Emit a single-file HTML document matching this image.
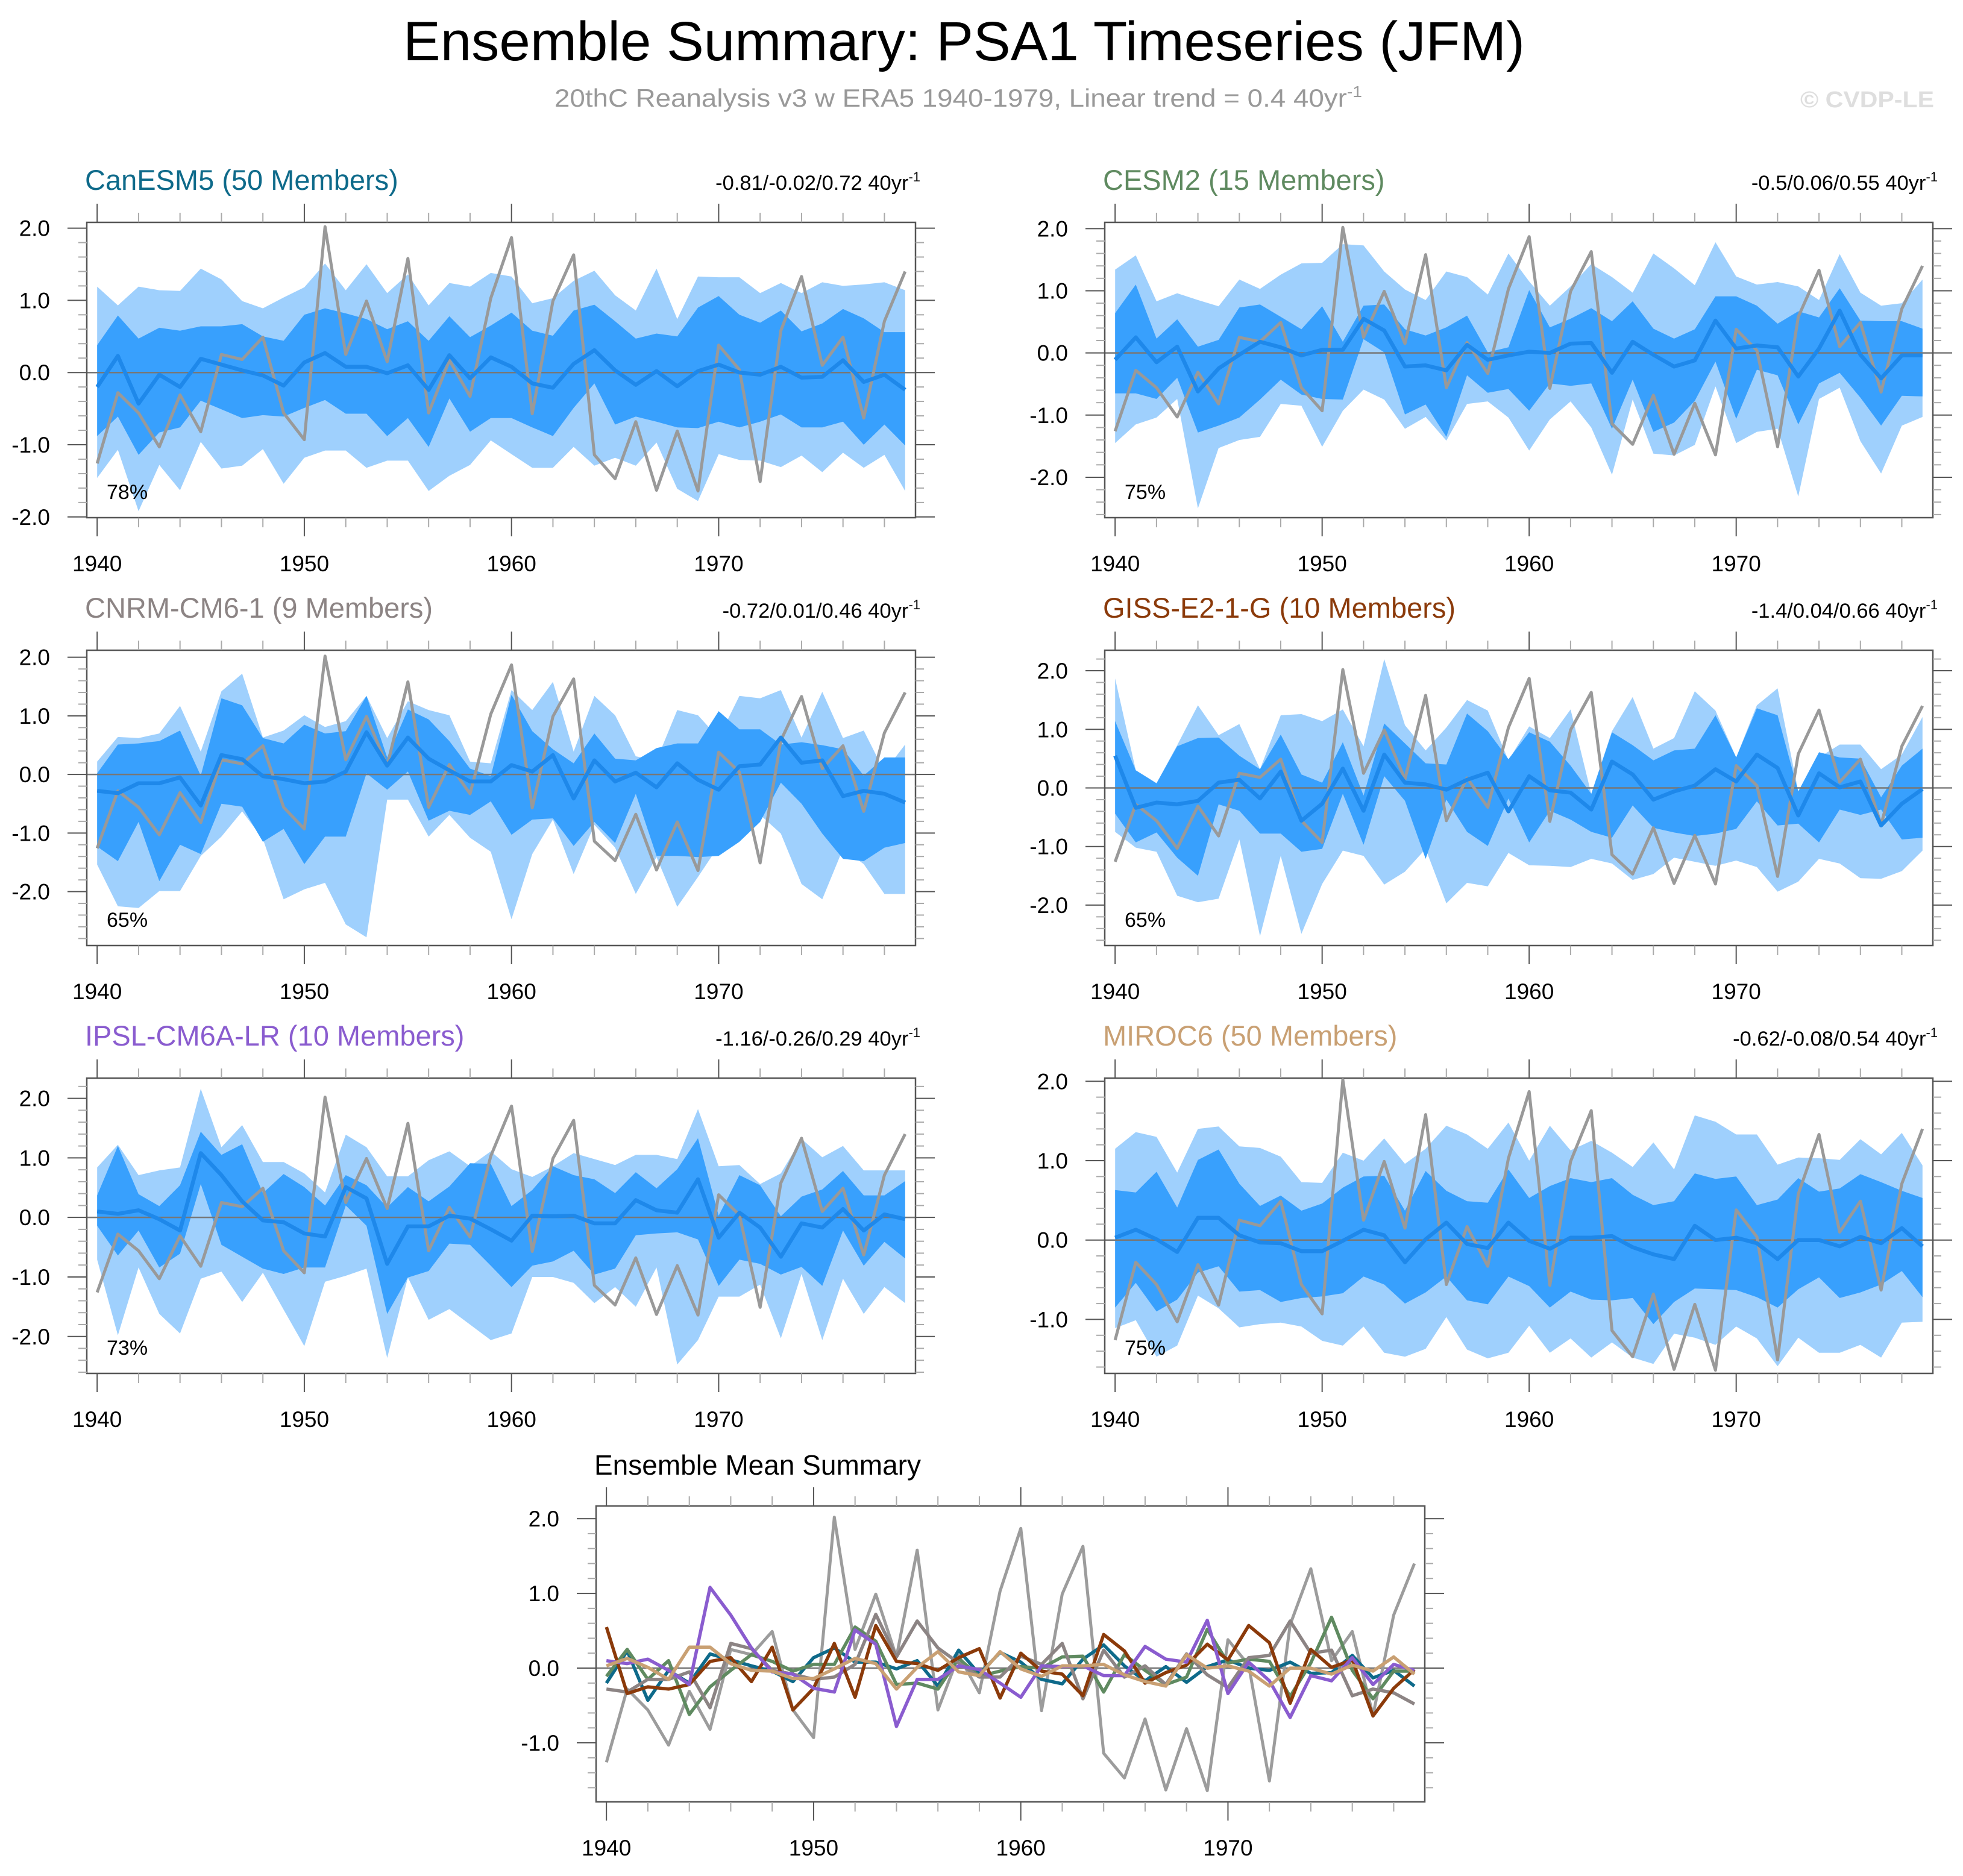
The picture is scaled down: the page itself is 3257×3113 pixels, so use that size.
<!DOCTYPE html>
<html><head><meta charset="utf-8">
<style>
html,body{margin:0;padding:0;background:#fff;}
svg{display:block;font-family:"Liberation Sans",sans-serif;}
</style></head>
<body>
<svg id="chart" xmlns="http://www.w3.org/2000/svg" width="3257" height="3113" viewBox="0 0 3257 3113">
<rect x="0" y="0" width="3257" height="3113" fill="#fff"/>
<text x="669" y="100" font-size="92" textLength="1861" lengthAdjust="spacingAndGlyphs" fill="#000">Ensemble Summary: PSA1 Timeseries (JFM)</text>
<text x="920" y="177" font-size="42" textLength="1340" lengthAdjust="spacingAndGlyphs" fill="#999">20thC Reanalysis v3 w ERA5 1940-1979, Linear trend = 0.4 40yr<tspan dy="-16" font-size="26">-1</tspan></text>
<text x="2987" y="178" font-size="38" font-weight="bold" textLength="222" lengthAdjust="spacingAndGlyphs" fill="#dedede">© CVDP-LE</text>
<g id="plots"></g>
</svg>
<script>
const years = [];
for (let y = 1940; y <= 1979; y++) years.push(y);
const obs = [-1.26,-0.28,-0.56,-1.03,-0.31,-0.82,0.25,0.18,0.49,-0.56,-0.93,2.02,0.25,0.99,0.15,1.58,-0.56,0.17,-0.33,1.03,1.87,-0.57,0.99,1.63,-1.14,-1.47,-0.68,-1.63,-0.81,-1.64,0.38,0.04,-1.51,0.58,1.33,0.1,0.49,-0.63,0.71,1.4];

const canMean = [-0.2,0.23,-0.43,-0.03,-0.2,0.19,0.11,0.03,-0.04,-0.18,0.14,0.27,0.08,0.08,-0.01,0.1,-0.24,0.24,-0.08,0.21,0.08,-0.15,-0.21,0.12,0.31,0.03,-0.17,0.02,-0.19,0.02,0.11,0,-0.03,0.08,-0.07,-0.06,0.17,-0.13,-0.03,-0.24];
const canHi = [1.19,0.93,1.19,1.14,1.13,1.44,1.29,0.99,0.89,1.04,1.18,1.51,1.14,1.5,1.1,1.36,0.93,1.24,1.19,1.38,1.33,0.96,1.03,1.27,1.41,1.07,0.86,1.44,0.74,1.33,1.32,1.32,1.1,1.24,1.1,1.25,1.2,1.22,1.25,1.14];
const canQ75 = [0.38,0.79,0.47,0.62,0.58,0.64,0.64,0.67,0.5,0.44,0.8,0.89,0.82,0.74,0.6,0.71,0.44,0.78,0.49,0.65,0.83,0.58,0.51,0.86,0.94,0.71,0.47,0.54,0.5,0.9,1.06,0.8,0.69,0.86,0.57,0.68,0.88,0.75,0.56,0.56];
const canQ25 = [-0.88,-0.61,-1.14,-0.83,-0.76,-0.39,-0.51,-0.63,-0.59,-0.61,-0.49,-0.38,-0.57,-0.57,-0.88,-0.63,-1.03,-0.36,-0.82,-0.63,-0.63,-0.76,-0.88,-0.49,-0.15,-0.72,-0.61,-0.68,-0.76,-0.77,-0.68,-0.76,-0.68,-0.58,-0.76,-0.76,-0.68,-1.0,-0.72,-1.01];
const canLo = [-1.46,-1.07,-1.92,-1.28,-1.63,-0.96,-1.33,-1.29,-1.06,-1.54,-1.18,-1.08,-1.08,-1.32,-1.22,-1.22,-1.64,-1.43,-1.28,-0.94,-1.13,-1.32,-1.32,-1.03,-1.29,-1.18,-1.29,-0.97,-1.61,-1.78,-1.13,-1.21,-1.22,-1.31,-1.15,-1.38,-1.11,-1.32,-1.14,-1.64];

const cesmMean = [-0.11,0.25,-0.15,0.1,-0.62,-0.25,-0.03,0.18,0.09,-0.04,0.05,0.05,0.55,0.36,-0.22,-0.2,-0.28,0.13,-0.11,-0.04,0.02,0,0.15,0.16,-0.32,0.18,-0.03,-0.22,-0.12,0.52,0.07,0.12,0.09,-0.38,0.07,0.68,-0.03,-0.41,-0.04,-0.04];
const cesmHi = [1.34,1.57,0.83,0.96,0.85,0.75,1.18,1.03,1.26,1.44,1.45,1.75,1.73,1.31,1.02,0.85,1.31,1.22,0.94,1.6,1.15,0.76,1.07,1.43,1.22,0.97,1.6,1.36,1.09,1.78,1.23,1.1,1.14,1.07,0.85,1.59,0.97,0.76,0.8,1.18];
const cesmQ75 = [0.64,1.1,0.23,0.54,0.1,0.21,0.73,0.78,0.58,0.38,0.75,0.18,0.76,0.78,0.38,0.28,0.41,0.6,0.01,0.09,1.01,0.41,0.55,0.72,0.51,0.83,0.39,0.23,0.38,0.91,0.91,0.76,0.47,0.67,0.57,1.04,0.52,0.51,0.51,0.39];
const cesmQ25 = [-0.65,-0.65,-0.74,-0.4,-1.28,-1.17,-1.04,-0.75,-0.43,-0.67,-0.74,-0.75,0.22,0.01,-0.99,-0.83,-1.35,-0.36,-0.64,-0.58,-0.93,-0.49,-0.53,-0.49,-1.22,-0.43,-1.27,-1.12,-0.77,-0.14,-1.06,-0.27,-0.36,-1.15,-0.49,-0.32,-0.72,-1.17,-0.69,-0.7];
const cesmLo = [-1.45,-1.15,-1.04,-0.74,-2.5,-1.53,-1.4,-1.35,-0.82,-0.85,-1.51,-0.93,-0.59,-0.75,-1.22,-1.03,-1.41,-0.82,-0.78,-1.04,-1.57,-1.07,-0.78,-1.2,-1.96,-0.75,-1.62,-1.65,-1.48,-0.54,-1.45,-1.27,-1.22,-2.31,-0.74,-0.56,-1.42,-1.94,-1.17,-1.03];

const cnrmMean = [-0.28,-0.32,-0.15,-0.15,-0.05,-0.53,0.33,0.26,-0.03,-0.08,-0.15,-0.12,0.05,0.72,0.15,0.63,0.27,0.07,-0.12,-0.12,0.16,0.05,0.33,-0.41,0.24,-0.12,0.03,-0.22,0.19,-0.09,-0.26,0.14,0.17,0.63,0.2,0.24,-0.37,-0.28,-0.33,-0.48];
const cnrmHi = [0.22,0.64,0.62,0.7,1.17,0.39,1.42,1.72,0.63,0.75,1.01,0.81,0.91,1.34,0.62,1.25,1.1,1.01,0.22,0.19,1.44,1.1,1.58,0.39,1.34,1.01,0.31,0.24,1.1,1.01,0.62,1.34,1.3,1.44,0.63,1.41,0.62,0.75,0.05,0.51];
const cnrmQ75 = [0.02,0.51,0.53,0.57,0.75,-0.02,1.3,1.18,0.62,0.53,0.85,0.7,0.74,1.34,0.29,1.11,0.94,0.57,0.1,-0.03,1.36,0.74,0.43,0.19,0.7,0.27,0.24,0.45,0.53,0.53,1.08,0.77,0.77,0.51,0.55,0.5,0.43,-0.02,0.29,0.29];
const cnrmQ25 = [-1.23,-1.48,-0.81,-1.82,-1.2,-1.36,-0.5,-0.55,-1.15,-0.93,-1.53,-1.06,-1.06,0.02,-0.26,0.05,-0.79,-0.62,-0.69,-0.46,-1.03,-0.77,-0.75,-1.22,-0.81,-1.17,-0.33,-1.39,-1.39,-1.41,-1.39,-1.15,-0.81,-0.14,-0.5,-1.01,-1.44,-1.48,-1.25,-1.17];
const cnrmLo = [-1.54,-2.25,-2.28,-1.99,-1.99,-1.39,-1.06,-0.63,-1.1,-2.13,-1.96,-1.85,-2.56,-2.78,-0.43,-0.43,-1.06,-0.69,-1.08,-1.32,-2.47,-1.36,-0.77,-1.7,-0.86,-1.25,-2.04,-1.41,-2.26,-1.75,-1.22,-0.7,-0.69,-1.01,-1.87,-2.13,-1.27,-1.53,-2.04,-2.04];

const gissMean = [0.55,-0.34,-0.25,-0.28,-0.22,0.09,0.14,-0.18,0.28,-0.56,-0.27,0.33,-0.39,0.57,0.09,0.06,-0.03,0.14,0.26,-0.4,0.2,-0.04,-0.08,-0.37,0.45,0.23,-0.2,-0.06,0.04,0.32,0.11,0.57,0.34,-0.47,0.25,0.01,0.11,-0.64,-0.27,-0.02];
const gissHi = [1.87,0.3,0.08,0.73,1.41,0.9,1.09,0.32,1.24,1.26,1.14,1.34,0.71,2.2,1.07,0.64,1.03,1.5,1.32,0.47,1.05,0.85,1.34,-0.1,0.97,1.55,0.67,0.85,1.65,1.32,0.52,1.41,1.7,-0.06,0.52,0.74,0.74,0.32,0.57,1.21];
const gissQ75 = [1.14,0.3,0.08,0.71,0.85,0.86,0.55,0.32,0.91,0.23,0.09,0.78,-0.13,1.1,0.76,0.42,0.4,1.27,0.97,0.49,0.95,0.79,0.38,-0.1,0.95,0.73,0.47,0.64,0.67,1.24,0.52,1.36,1.24,-0.06,0.61,0.52,0.5,-0.16,0.38,0.67];
const gissQ25 = [-0.44,-0.93,-0.76,-1.19,-1.5,-0.28,-0.39,-0.78,-0.78,-1.09,-1.04,-0.1,-0.97,0.2,-0.22,-1.21,-0.2,-0.75,-0.99,-0.18,-0.93,-0.39,-0.54,-0.75,-0.85,-0.3,-0.68,-0.76,-0.82,-0.78,-0.7,-0.23,-0.64,-0.61,-0.93,-0.37,-0.46,-0.37,-0.88,-0.85];
const gissLo = [-0.75,-1.02,-1.09,-1.84,-1.95,-1.89,-0.88,-2.53,-1.16,-2.49,-1.64,-1.07,-1.16,-1.65,-1.43,-1.04,-1.97,-1.62,-1.68,-1.11,-1.32,-1.33,-1.35,-1.21,-1.29,-1.57,-1.47,-1.19,-1.26,-1.33,-1.24,-1.35,-1.77,-1.6,-1.21,-1.29,-1.54,-1.55,-1.42,-1.07];

const ipslMean = [0.1,0.06,0.12,-0.03,-0.22,1.08,0.71,0.27,-0.05,-0.08,-0.27,-0.32,0.51,0.32,-0.78,-0.15,-0.15,0.03,-0.02,-0.2,-0.39,0.03,0.02,0.03,-0.1,-0.1,0.29,0.12,0.08,0.64,-0.34,0.08,-0.17,-0.66,-0.1,-0.17,0.14,-0.22,0.05,-0.03];
const ipslHi = [0.84,1.22,0.71,0.79,0.84,2.16,1.18,1.55,0.93,0.93,0.74,0.42,1.39,1.18,0.69,0.69,0.96,1.11,0.86,1.11,0.81,0.68,0.86,1.08,0.98,0.88,1.05,1.05,0.98,1.82,0.86,0.88,0.56,0.74,1.32,1.01,1.2,0.79,0.79,0.79];
const ipslQ75 = [0.37,1.2,0.39,0.19,0.54,1.44,1.05,1.23,0.41,0.73,0.51,0.2,0.71,0.54,0.17,0.51,0.27,0.52,0.91,0.9,0.19,0.46,0.86,0.71,0.64,0.41,0.76,0.49,0.81,1.33,0.03,0.71,0.54,0.02,0.35,0.47,0.78,0.37,0.37,0.61];
const ipslQ25 = [-0.14,-0.64,-0.22,-0.84,-0.61,0.56,-0.46,-0.66,-0.86,-0.95,-0.84,-0.84,0.2,-0.14,-1.62,-1.01,-0.9,-0.44,-0.46,-0.81,-1.17,-0.81,-0.74,-0.56,-0.96,-0.86,-0.3,-0.27,-0.25,-0.37,-1.15,-0.71,-0.78,-0.96,-0.83,-1.15,-0.22,-0.81,-0.41,-0.69];
const ipslLo = [-0.71,-1.98,-0.84,-1.62,-1.95,-1.03,-0.91,-1.42,-0.93,-1.55,-2.16,-1.08,-0.98,-0.86,-2.36,-1.01,-1.72,-1.54,-1.8,-2.06,-1.95,-1.0,-1.0,-1.1,-1.44,-1.17,-1.5,-0.84,-2.47,-2.06,-1.33,-1.33,-1.13,-2.03,-0.95,-2.06,-1.03,-1.62,-1.17,-1.44];

const mirocMean = [0.03,0.13,0.01,-0.15,0.28,0.28,0.06,-0.03,-0.04,-0.14,-0.14,-0.01,0.13,0.06,-0.28,0.01,0.22,-0.05,-0.1,0.22,-0.01,-0.11,0.03,0.03,0.05,-0.09,-0.18,-0.24,0.18,0,0.03,-0.04,-0.24,0,0,-0.08,0.04,-0.04,0.15,-0.08];
const mirocHi = [1.15,1.36,1.3,0.85,1.4,1.43,1.18,1.16,1.05,0.73,0.72,1.1,1.0,1.28,0.96,1.15,1.44,1.33,1.15,1.48,1.0,1.44,1.13,1.25,1.1,0.92,1.23,0.89,1.57,1.49,1.33,1.33,0.95,1.04,1.03,1.01,1.27,1.08,1.35,0.94];
const mirocQ75 = [0.63,0.6,0.86,0.41,1.01,1.14,0.71,0.43,0.56,0.37,0.46,0.66,0.8,0.81,0.37,0.87,0.62,0.49,0.47,0.89,0.53,0.68,0.78,0.73,0.78,0.57,0.44,0.49,0.84,0.77,0.8,0.44,0.51,0.78,0.61,0.65,0.83,0.73,0.62,0.53];
const mirocQ25 = [-0.85,-0.54,-0.9,-0.75,-0.41,-0.33,-0.65,-0.63,-0.78,-0.73,-0.71,-0.67,-0.46,-0.56,-0.8,-0.66,-0.46,-0.76,-0.81,-0.46,-0.58,-0.85,-0.65,-0.75,-0.76,-0.73,-1.06,-0.78,-0.61,-0.62,-0.63,-0.72,-0.85,-0.62,-0.47,-0.73,-0.66,-0.56,-0.39,-0.72];
const mirocLo = [-1.11,-1.01,-1.47,-1.33,-0.7,-0.86,-1.1,-1.06,-1.04,-1.09,-1.27,-1.33,-1.09,-1.42,-1.47,-1.37,-0.97,-1.38,-1.49,-1.42,-1.08,-1.42,-1.24,-1.48,-1.29,-1.48,-1.56,-1.18,-1.23,-1.32,-1.09,-1.24,-1.59,-1.23,-1.42,-1.42,-1.32,-1.48,-1.04,-1.03];

const modelNames = ["CanESM5 (50 Members)","CESM2 (15 Members)","CNRM-CM6-1 (9 Members)","GISS-E2-1-G (10 Members)","IPSL-CM6A-LR (10 Members)","MIROC6 (50 Members)"];
const trendLabels = ["-0.81/-0.02/0.72 40yr","-0.5/0.06/0.55 40yr","-0.72/0.01/0.46 40yr","-1.4/0.04/0.66 40yr","-1.16/-0.26/0.29 40yr","-0.62/-0.08/0.54 40yr"];
const pctLabels = ["78%","75%","65%","65%","73%","75%"];
const xTickLabels = [1940,1950,1960,1970];

const NS = "http://www.w3.org/2000/svg";
const root = document.getElementById("plots");
function mk(tag, attrs, parent) {
  const e = document.createElementNS(NS, tag);
  for (const k in attrs) e.setAttribute(k, attrs[k]);
  (parent || root).appendChild(e);
  return e;
}
const modelColors = ["#0e6a8a","#5f8a60","#8c8484","#8b3a0a","#8a5ccf","#c9a073"];
const meansAll = [canMean,cesmMean,cnrmMean,gissMean,ipslMean,mirocMean];
const his = [canHi,cesmHi,cnrmHi,gissHi,ipslHi,mirocHi];
const q75s = [canQ75,cesmQ75,cnrmQ75,gissQ75,ipslQ75,mirocQ75];
const q25s = [canQ25,cesmQ25,cnrmQ25,gissQ25,ipslQ25,mirocQ25];
const los = [canLo,cesmLo,cnrmLo,gissLo,ipslLo,mirocLo];

const colX = [[144,1519],[1833,3207]];
const rowY = [[369,859],[1079,1569],[1789,2279]];
const yRanges = [[-2.01,2.08],[-2.65,2.1],[-2.92,2.12],[-2.69,2.35],[-2.62,2.34],[-1.68,2.04]];

function makeAxes(g, x0, x1, y0, y1, ymin, ymax) {
  const sx = v => x0 + (v - 1939.5) / 40 * (x1 - x0);
  const sy = v => y1 - (v - ymin) / (ymax - ymin) * (y1 - y0);
  return {sx, sy};
}

function drawFrame(g, x0, x1, y0, y1, ymin, ymax, sx, sy) {
  const zl = mk("line", {x1:x0, x2:x1, y1:sy(0), y2:sy(0), stroke:"#777", "stroke-width":2.5}, g);
  
  
  const box = mk("rect", {x:x0, y:y0, width:x1-x0, height:y1-y0, fill:"none", stroke:"#555", "stroke-width":2.5}, g);
  
  
  for (let yr = 1940; yr <= 1978; yr += 2) {
    const major = yr % 10 === 0;
    const L = major ? 31 : 16;
    const x = sx(yr);
    mk("line", {x1:x, x2:x, y1:y0, y2:y0-L, stroke:major?"#555":"#aaa", "stroke-width":2}, g);
    mk("line", {x1:x, x2:x, y1:y1, y2:y1+L, stroke:major?"#555":"#aaa", "stroke-width":2}, g);
  }
  xTickLabels.forEach(yr => {
    const t = mk("text", {x:sx(yr), y:y1+89, "font-size":37, "text-anchor":"middle", fill:"#000"}, g);
    
    
    t.textContent = yr;
  });
  for (let i = Math.ceil(ymin/0.2 - 1e-6); i <= Math.floor(ymax/0.2 + 1e-6); i++) {
    const v = i * 0.2;
    const major = i % 5 === 0;
    const L = major ? 32 : 14;
    const y = sy(v);
    mk("line", {x1:x0, x2:x0-L, y1:y, y2:y, stroke:major?"#555":"#aaa", "stroke-width":2}, g);
    mk("line", {x1:x1, x2:x1+L, y1:y, y2:y, stroke:major?"#555":"#aaa", "stroke-width":2}, g);
    if (major) {
      const t = mk("text", {x:x0-61, y:y+13, "font-size":37, "text-anchor":"end", fill:"#000"}, g);
      
      
      t.textContent = (Math.round(v*10)/10).toFixed(1);
    }
  }
}

function linePath(arr, sx, sy) {
  return arr.map((v,i) => (i?"L":"M") + sx(years[i]).toFixed(1) + "," + sy(v).toFixed(1)).join(" ");
}
function bandPath(hi, lo, sx, sy) {
  let d = hi.map((v,i) => (i?"L":"M") + sx(years[i]).toFixed(1) + "," + sy(v).toFixed(1)).join(" ");
  for (let i = lo.length-1; i >= 0; i--) d += " L" + sx(years[i]).toFixed(1) + "," + sy(lo[i]).toFixed(1);
  return d + " Z";
}

for (let p = 0; p < 6; p++) {
  const [x0,x1] = colX[p % 2];
  const [y0,y1] = rowY[Math.floor(p / 2)];
  const [ymin,ymax] = yRanges[p];
  const g = mk("g", {});
  
  
  const {sx, sy} = makeAxes(g, x0, x1, y0, y1, ymin, ymax);
  const b1 = mk("path", {d:bandPath(his[p], los[p], sx, sy), fill:"#9fd0fd"}, g);
  
  
  const b2 = mk("path", {d:bandPath(q75s[p], q25s[p], sx, sy), fill:"#38a0fd"}, g);
  
  
  drawFrame(g, x0, x1, y0, y1, ymin, ymax, sx, sy);
  const ob = mk("path", {d:linePath(obs, sx, sy), fill:"none", stroke:"#999", "stroke-width":5, "stroke-linejoin":"round"}, g);
  
  
  const ml = mk("path", {d:linePath(meansAll[p], sx, sy), fill:"none", stroke:"#1e88ea", "stroke-width":6.5, "stroke-linejoin":"round"}, g);
  
  
  const tt = mk("text", {x:x0-3, y:y0-54, "font-size":47, fill:modelColors[p]}, g);
  
  
  tt.textContent = modelNames[p];
  const tr = mk("text", {x:x1+8, y:y0-54, "font-size":34.5, "text-anchor":"end", fill:"#000"}, g);
  
  
  tr.textContent = trendLabels[p];
  const sup = mk("tspan", {dy:-14, "font-size":22}, tr);
  sup.textContent = "-1";
  const pc = mk("text", {x:x0+33, y:y1-31, "font-size":34, fill:"#000"}, g);
  
  
  pc.textContent = pctLabels[p];
}

(function(){
  const x0 = 989, x1 = 2364, y0 = 2499, y1 = 2990, ymin = -1.79, ymax = 2.17;
  const g = mk("g", {});
  
  
  const {sx, sy} = makeAxes(g, x0, x1, y0, y1, ymin, ymax);
  drawFrame(g, x0, x1, y0, y1, ymin, ymax, sx, sy);
  const ob = mk("path", {d:linePath(obs, sx, sy), fill:"none", stroke:"#9c9c9c", "stroke-width":5, "stroke-linejoin":"round"}, g);
  
  
  for (let p = 0; p < 6; p++) {
    const l = mk("path", {d:linePath(meansAll[p], sx, sy), fill:"none", stroke:modelColors[p], "stroke-width":5.5, "stroke-linejoin":"round"}, g);
    
    
  }
  const t = mk("text", {x:986, y:2447, "font-size":46, fill:"#000"}, g);
  
  
  t.textContent = "Ensemble Mean Summary";
})();
</script>
</body></html>
